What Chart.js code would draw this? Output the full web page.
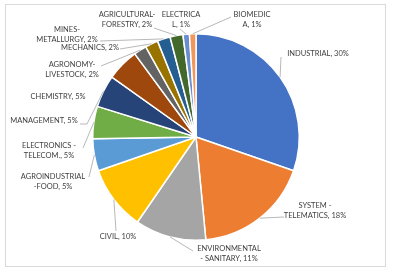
<!DOCTYPE html>
<html>
<head>
<meta charset="utf-8">
<script src="https://cdn.jsdelivr.net/npm/chart.js@4.4.1/dist/chart.umd.min.js"></script>
<style>
  body { margin: 0; background: #fff; }
  #wrap { width: 394px; height: 273px; }
</style>
</head>
<body>
<div id="wrap"><canvas id="pie-chart" width="394" height="273"></canvas></div>
<script>
//Data
var categories = ["INDUSTRIAL", "SYSTEM - TELEMATICS", "ENVIRONMENTAL - SANITARY", "CIVIL",
  "AGROINDUSTRIAL -FOOD", "ELECTRONICS- TELECOM.", "MANAGEMENT", "CHEMISTRY",
  "AGRONOMY- LIVESTOCK", "MECHANICS", "MINES- METALLURGY", "AGRICULTURAL- FORESTRY",
  "ELECTRICAL", "BIOMEDICA"];
var percents = [30, 18, 11, 10, 5, 5, 5, 5, 2, 2, 2, 2, 1, 1];

//label text lines as printed on the chart (Excel wrapped them)
var labelLines = [
  ["INDUSTRIAL, 30%"],
  ["SYSTEM -", "TELEMATICS, 18%"],
  ["ENVIRONMENTAL", "- SANITARY, 11%"],
  ["CIVIL, 10%"],
  ["AGROINDUSTRIAL", "-FOOD, 5%"],
  ["ELECTRONICS -", "TELECOM., 5%"],
  ["MANAGEMENT, 5%"],
  ["CHEMISTRY, 5%"],
  ["AGRONOMY-", "LIVESTOCK, 2%"],
  ["MECHANICS, 2%"],
  ["MINES-", "METALLURGY, 2%"],
  ["AGRICULTURAL-", "FORESTRY, 2%"],
  ["ELECTRICA", "L, 1%"],
  ["BIOMEDIC", "A, 1%"]
];

var colors = ["#4472C4", "#ED7D31", "#A5A5A5", "#FFC000", "#5B9BD5", "#70AD47", "#264478",
  "#9E480E", "#636363", "#997300", "#255E91", "#43682B", "#698ED0", "#F1975A"];

//Label layout: text centre and the leader start (null = no leader)
var labelLayout = [
  { x: 318, y: 54, lead: [[281, 57]] },
  { x: 315, y: 206, lead: [[284, 217]] },
  { x: 229, y: 249, lead: [[193, 251]] },
  { x: 118, y: 237, lead: [[116, 231]] },
  { x: 53, y: 177, lead: [[89, 177]] },
  { x: 49, y: 146, lead: [[83, 148]] },
  { x: 44, y: 121, lead: [[80, 124], [87, 124]] },
  { x: 58, y: 97, lead: null },
  { x: 72, y: 65, lead: [[101, 66]] },
  { x: 90, y: 48, lead: [[120, 49]] },
  { x: 67, y: 30, lead: [[100, 41]] },
  { x: 127, y: 15, lead: [[154, 28]] },
  { x: 181, y: 15, lead: [[180, 29]] },
  { x: 252, y: 15, lead: [[231, 17]] }
];

//Plugin: chart frame + outside labels with leader lines
var excelLabels = {
  id: "excelLabels",
  beforeDraw: function (chart) {
    var ctx = chart.ctx;
    ctx.save();
    ctx.fillStyle = "#ffffff";
    ctx.fillRect(0, 0, chart.width, chart.height);
    ctx.strokeStyle = "#D9D9D9";
    ctx.lineWidth = 1;
    ctx.strokeRect(5.5, 4.5, 380, 262);
    ctx.restore();
  },
  afterDatasetsDraw: function (chart) {
    var ctx = chart.ctx;
    var arcs = chart.getDatasetMeta(0).data;
    ctx.save();
    ctx.font = "7.5px Lato";
    ctx.fillStyle = "#404040";
    ctx.textAlign = "center";
    ctx.textBaseline = "middle";
    arcs.forEach(function (arc, i) {
      var lay = labelLayout[i];
      var lines = labelLines[i];
      lines.forEach(function (t, k) {
        ctx.fillText(t, lay.x, lay.y + k * 9.5);
      });
      if (lay.lead) {
        var mid = (arc.startAngle + arc.endAngle) / 2;
        var ex = arc.x + Math.cos(mid) * arc.outerRadius;
        var ey = arc.y + Math.sin(mid) * arc.outerRadius;
        ctx.strokeStyle = "#A6A6A6";
        ctx.lineWidth = 0.8;
        ctx.beginPath();
        ctx.moveTo(lay.lead[0][0], lay.lead[0][1]);
        for (var j = 1; j < lay.lead.length; j++) ctx.lineTo(lay.lead[j][0], lay.lead[j][1]);
        ctx.lineTo(ex, ey);
        ctx.stroke();
      }
    });
    ctx.restore();
  }
};

new Chart(document.getElementById("pie-chart"), {
  type: "pie",
  data: {
    labels: categories,
    datasets: [{
      data: percents,
      backgroundColor: colors,
      borderColor: "#ffffff",
      borderWidth: 1.5
    }]
  },
  options: {
    responsive: false,
    animation: false,
    layout: { padding: { left: 60, right: 62, top: 33, bottom: 32 } },
    plugins: {
      legend: { display: false },
      tooltip: { enabled: false }
    }
  },
  plugins: [excelLabels]
});
</script>
</body>
</html>
